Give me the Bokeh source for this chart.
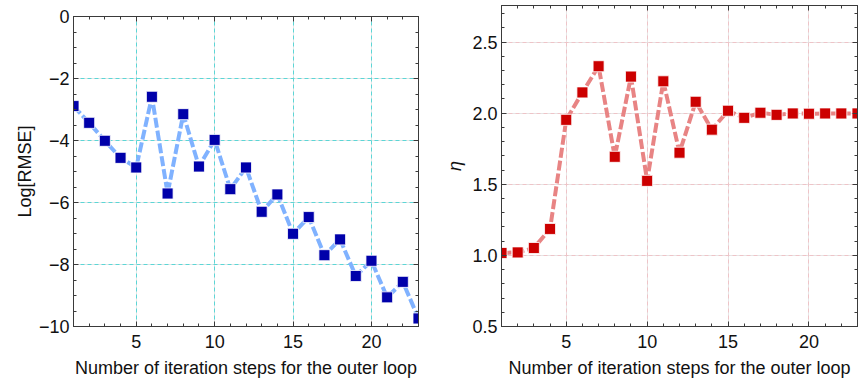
from bokeh.plotting import figure
from bokeh.layouts import row, column
from bokeh.models import (LinearAxis, SingleIntervalTicker, Range1d, Grid, FixedTicker,
                          CustomJSTickFormatter)
from bokeh.embed import file_html
from bokeh.resources import INLINE

steps = list(range(1, 24))
log_rmse = [-2.89, -3.43, -4.01, -4.56, -4.87, -2.59, -5.71, -3.15, -4.84, -3.98,
            -5.57, -4.87, -6.30, -5.74, -7.01, -6.47, -7.70, -7.19, -8.37, -7.88,
            -9.06, -8.56, -9.74]
eta = [1.017, 1.021, 1.052, 1.186, 1.953, 2.146, 2.330, 1.693, 2.257, 1.524,
       2.224, 1.722, 2.080, 1.884, 2.017, 1.967, 2.003, 1.988, 1.998, 1.996,
       1.998, 1.998, 1.998]

xlabel = "Number of iteration steps for the outer loop"
FONT = "Liberation Sans"
FS = "18px"
FRAME = "#3a3a3a"


def style_axis(ax, ticker, show_labels):
    ax.ticker = ticker
    ax.axis_line_color = FRAME
    ax.major_tick_line_color = FRAME
    ax.minor_tick_line_color = FRAME
    ax.major_tick_in = 5
    ax.major_tick_out = 0
    ax.minor_tick_in = 3
    ax.minor_tick_out = 0
    ax.major_label_text_font = FONT
    ax.major_label_text_font_size = FS
    ax.major_label_text_color = "#111111"
    ax.axis_label_text_font = FONT
    ax.axis_label_text_font_size = FS
    ax.axis_label_text_font_style = "normal"
    ax.axis_label_text_color = "#111111"
    if not show_labels:
        ax.formatter = CustomJSTickFormatter(code="return '';")
        ax.major_label_standoff = 0


def make(ys, xr, yr, xtick, ytick, ylabel, line_color, mark_color, grid_color,
         fw, fh, bl, br, bt, bb, grid_y, yfmt, lstand, italic=False):
    p = figure(frame_width=fw, frame_height=fh, x_range=Range1d(*xr), y_range=Range1d(*yr),
               output_backend="svg", toolbar_location=None, title=None,
               min_border_left=bl, min_border_right=br, min_border_top=bt, min_border_bottom=bb,
               x_axis_location=None, y_axis_location=None)
    p.outline_line_color = FRAME
    p.background_fill_color = "white"
    p.border_fill_color = "white"

    bottom = LinearAxis(axis_label=xlabel)
    style_axis(bottom, SingleIntervalTicker(interval=xtick, num_minor_ticks=5), True)
    bottom.major_label_standoff = 8
    bottom.axis_label_standoff = 7
    p.add_layout(bottom, "below")

    left = LinearAxis(axis_label=ylabel, formatter=yfmt)
    style_axis(left, SingleIntervalTicker(interval=ytick[0], num_minor_ticks=ytick[1]), True)
    left.major_label_standoff = 4
    left.axis_label_standoff = lstand
    if italic:
        left.axis_label_text_font_style = "italic"
    p.add_layout(left, "left")

    top = LinearAxis()
    style_axis(top, SingleIntervalTicker(interval=xtick, num_minor_ticks=5), False)
    p.add_layout(top, "above")
    right = LinearAxis()
    style_axis(right, SingleIntervalTicker(interval=ytick[0], num_minor_ticks=ytick[1]), False)
    p.add_layout(right, "right")

    gx = Grid(dimension=0, ticker=FixedTicker(ticks=[5, 10, 15, 20]),
              grid_line_color=grid_color, grid_line_dash="4 3", grid_line_width=1)
    gy = Grid(dimension=1, ticker=FixedTicker(ticks=grid_y),
              grid_line_color=grid_color, grid_line_dash="4 3", grid_line_width=1)
    p.add_layout(gx)
    p.add_layout(gy)

    p.line(steps, ys, line_color=line_color, line_width=4, line_dash="10 3")
    p.scatter(steps, ys, marker="square", size=11, fill_color=mark_color,
              line_color="white", line_width=0.8)
    return p


fmt_left = CustomJSTickFormatter(code="return tick.toString().replace('-', '\\u2212');")
fmt_right = CustomJSTickFormatter(code="return tick.toFixed(1);")

p1 = make(log_rmse, (1, 23), (-10, 0), 5, (2, 4), "Log[RMSE]",
          "#80b2ff", "#0000aa", "#5cd6d6", 345, 310, 73, 12, 16, 57,
          [-2, -4, -6, -8], fmt_left, 1)
p2 = make(eta, (1, 23), (0.5, 2.757), 5, (0.5, 5), "η",
          "#e88484", "#cc0000", "#eec4c8", 356, 321, 71, 6, 5, 57,
          [1.0, 1.5, 2.0, 2.5], fmt_right, 4, italic=True)

layout = row(column(p1), column(p2), spacing=0)
open("out.html", "w").write(file_html(layout, INLINE))
